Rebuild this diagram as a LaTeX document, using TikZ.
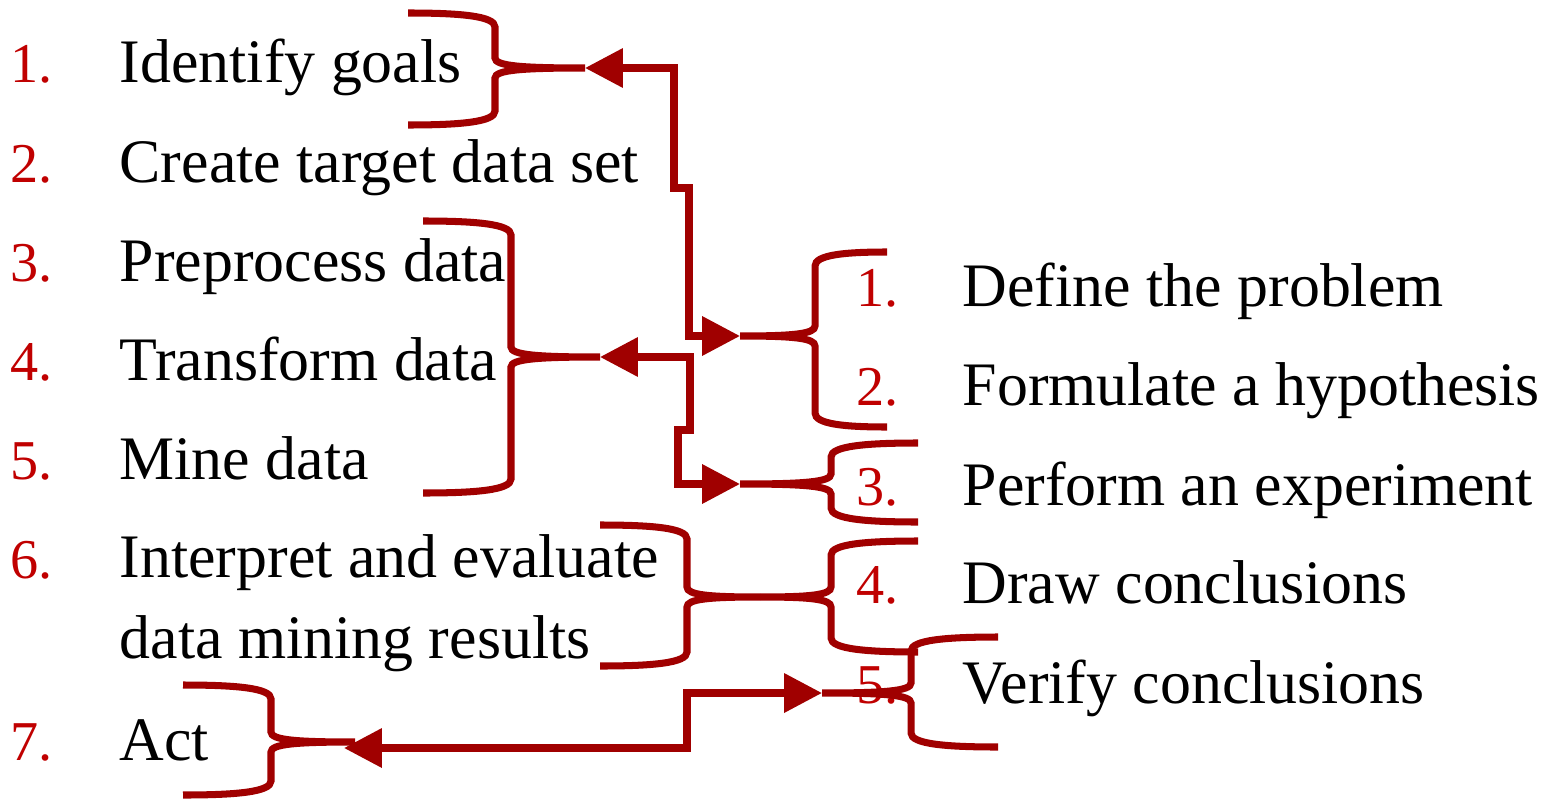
\documentclass[tikz,border=0pt]{standalone}
\usepackage{fontspec}
\setmainfont{Liberation Serif}
\usetikzlibrary{arrows.meta}

\definecolor{bracered}{RGB}{160,0,0}
\definecolor{numred}{RGB}{192,0,0}

% brace: #1 end x, #2 bar x, #3 tip x, #4 top y, #5 tip y, #6 bottom y
\newcommand{\stepbrace}[6]{%
  \draw[brace line] (#1,#4) .. controls ({#2+0.4*(#1-#2)},#4) and (#2,{#4+3}) .. (#2,{#4+14})
    -- (#2,{#5-10}) .. controls (#2,{#5-2}) and ({#2+0.3*(#3-#2)},#5) .. (#3,#5)
    .. controls ({#2+0.3*(#3-#2)},#5) and (#2,{#5+2}) .. (#2,{#5+10})
    -- (#2,{#6-14}) .. controls (#2,{#6-3}) and ({#2+0.4*(#1-#2)},#6) .. (#1,#6);}

\begin{document}
\begin{tikzpicture}[
    x=0.1mm, y=-0.1mm,
    steptext/.style={
      % text sits on its baseline
      anchor=base west,
      inner sep=0pt,
      align=left,
      font=\fontsize{17.6}{22.8}\selectfont,
    },
    stepnumber/.style={steptext, text=numred, font=\fontsize{16}{20}\selectfont},
    brace line/.style={draw=bracered, line width=2pt},
    link/.style={
      brace line,
      {Triangle[length=10.8pt,width=10.8pt]}-{Triangle[length=10.8pt,width=10.8pt]},
    }]

    \useasboundingbox (0,0) rectangle (1564,799);

    % KDD steps
    \node[stepnumber] (kn1) at (10,83) {1.};
    \node[steptext] (goals) at (119,83) {Identify goals};
    \node[stepnumber] (kn2) at (10,182) {2.};
    \node[steptext] (target) at (119,182) {Create target data set};
    \node[stepnumber] (kn3) at (10,281) {3.};
    \node[steptext] (preprocess) at (119,281) {Preprocess data};
    \node[stepnumber] (kn4) at (10,380) {4.};
    \node[steptext] (transform) at (119,380) {Transform data};
    \node[stepnumber] (kn5) at (10,479) {5.};
    \node[steptext] (mine) at (119,479) {Mine data};
    \node[stepnumber] (kn6) at (10,578) {6.};
    % base anchor of a two-line node is its last line
    \node[steptext] (interpret) at (119,658) {Interpret and evaluate\\data mining results};
    \node[stepnumber] (kn7) at (10,760) {7.};
    \node[steptext] (act) at (119,760) {Act};

    % scientific method
    \node[stepnumber] (sn1) at (856,306) {1.};
    \node[steptext] (define) at (962,306) {Define the problem};
    \node[stepnumber] (sn2) at (856,405) {2.};
    \node[steptext] (hypothesis) at (962,405) {Formulate a hypothesis};
    \node[stepnumber] (sn3) at (856,505) {3.};
    \node[steptext] (experiment) at (962,505) {Perform an experiment};
    \node[stepnumber] (sn4) at (856,603) {4.};
    \node[steptext] (conclude) at (962,603) {Draw conclusions};
    \node[stepnumber] (sn5) at (856,703) {5.};
    \node[steptext] (verify) at (962,703) {Verify conclusions};

    % brace tips
    \coordinate (goalsTip) at (585,68);
    \coordinate (dataTip) at (600,357);
    \coordinate (evalTip) at (760,597);
    \coordinate (actTip) at (344,748);
    \coordinate (defineTip) at (740,336);
    \coordinate (experimentTip) at (740,484);
    \coordinate (verifyTip) at (822,693);

    % braces
    \stepbrace{408}{495}{585}{13}{68}{125}
    \stepbrace{423}{511}{600}{221}{357}{493}
    \stepbrace{600}{687}{760}{525}{597}{666}
    \stepbrace{183}{271}{355}{685}{742}{795}
    \stepbrace{887}{815}{740}{252}{336}{427}
    \stepbrace{918}{831}{740}{443}{484}{522}
    \stepbrace{918}{831}{760}{541}{597}{652}
    \stepbrace{998}{911}{822}{637}{693}{747}

    % links
    \draw[link] (goalsTip) -- (674,68) -- (674,188) -- (689,188) |- (defineTip);
    \draw[link] (dataTip) -- (690,357) -- (690,430) -- (678,430) |- (experimentTip);
    \draw[link] (actTip) -- (687,748) |- (verifyTip);
  \end{tikzpicture}
\end{document}
